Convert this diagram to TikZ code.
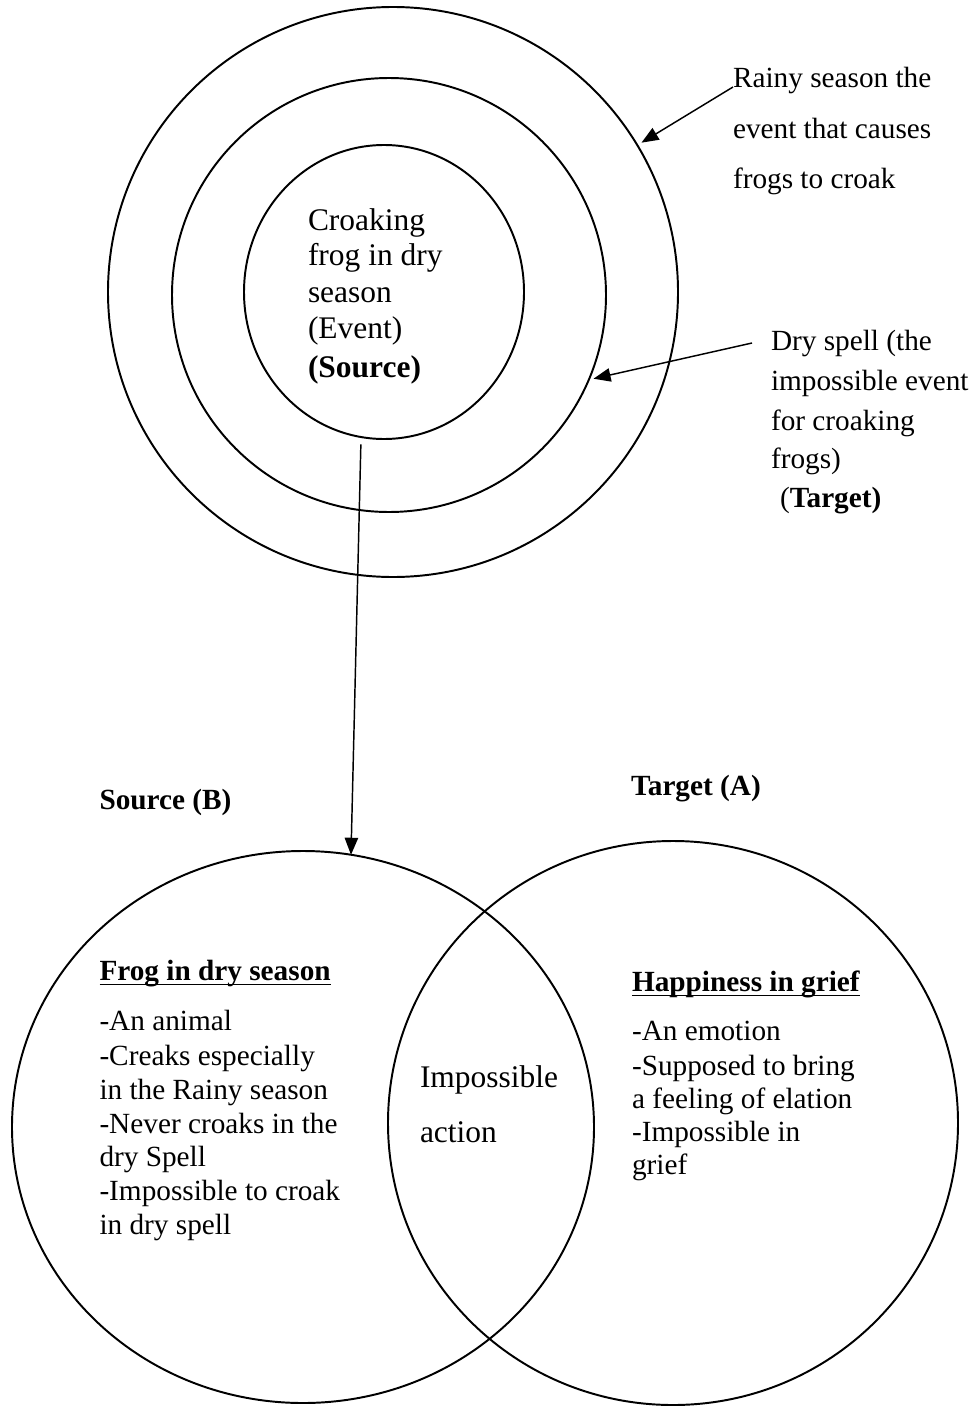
\documentclass[tikz,border=0pt]{standalone}
\usepackage{fontspec}
\setmainfont{Liberation Serif}
\usepackage{tikz}
\usetikzlibrary{positioning,arrows.meta}
\usetikzlibrary{shapes.geometric}

\newcommand{\pxu}{0.41pt}

\tikzset{
	ring/.style={draw, line width=0.8pt, inner sep=0pt, outer sep=0pt},
	lbl/.style={anchor=base west, inner sep=0pt, outer sep=0pt,
		font=\fontsize{12}{14}\selectfont},
	biglbl/.style={lbl, font=\fontsize{12.9}{15}\selectfont},
	pointer/.style={-{Triangle[length=7pt,width=5.5pt]}, line width=0.6pt},
	uline/.style={line width=0.6pt}
}

\begin{document}
\begin{tikzpicture}[x=\pxu,y=-\pxu]
		
		\useasboundingbox (0,0) rectangle (975,1406);
		
		% rings round the event
		\node[ring, circle, minimum size=570*\pxu] (outerring) at (393,292) {};
		\node[ring, circle, minimum size=434*\pxu] (midring) at (389,295) {};
		\node[ring, ellipse, minimum width=280*\pxu, minimum height=294*\pxu]
		(innerring) at (384,292) {};
		
		\foreach \y/\txt [count=\i] in
		{
			230/{Croaking},
			265/{frog in dry},
			302/{season},
			338/{(Event)},
			377/{\textbf{(Source)}}
		}
		{
			\node[biglbl] (event\i) at (308,\y) {\txt};
		}
		
		\foreach \y/\txt [count=\i] in
		{
			87/{Rainy season the},
			138/{event that causes},
			188/{frogs to croak}
		}
		{
			\node[lbl] (rainy\i) at (733,\y) {\txt};
		}
		
		\foreach \y/\txt [count=\i] in
		{
			350/{Dry spell (the},
			390/{impossible event},
			430/{for croaking},
			468/{frogs)}
		}
		{
			\node[lbl] (dry\i) at (771,\y) {\txt};
		}
		\node[lbl] (dry5) at (780,507) {(\textbf{Target)}};
		
		\coordinate (dryfrom) at (752,343);
		
		\draw[pointer, shorten >=2pt]
		(rainy1.base west)
		--
		(outerring.31.5);
		
		\draw[pointer, shorten >=2pt]
		(dryfrom)
		--
		(midring.-23);
		
		% source and target
		\node[ring, ellipse, minimum width=582*\pxu, minimum height=552*\pxu]
		(srcring) at (303,1127) {};
		\node[ring, ellipse, minimum width=570*\pxu, minimum height=564*\pxu]
		(tgtring) at (673,1123) {};
		
		\draw[pointer, shorten <=3pt]
		(innerring.-99)
		--
		(srcring.80.7);
		
		\node[lbl, font=\fontsize{12}{14}\selectfont\bfseries] (srcB) at (99.5,809) {Source (B)};
		\node[lbl, font=\fontsize{12}{14}\selectfont\bfseries] (tgtA) at (631,795) {Target (A)};
		
		\node[lbl] (frogtitle) at (99.5,980) {\textbf{Frog in dry season}};
		\draw[uline]
		([yshift=-1.9pt]frogtitle.base west)
		--
		([yshift=-1.9pt]frogtitle.base east);
		
		\foreach \y/\txt [count=\i] in
		{
			1030/{-An animal},
			1065/{-Creaks especially},
			1099/{in the Rainy season},
			1133/{-Never croaks in the},
			1166/{dry Spell},
			1200/{-Impossible to croak},
			1234/{in dry spell}
		}
		{
			\node[lbl] (frog\i) at (99.5,\y) {\txt};
		}
		
		\node[lbl] (joy) at (632,991) {\textbf{Happiness in grief}};
		\draw[uline]
		([yshift=-1.9pt]joy.base west)
		--
		([yshift=-1.9pt]joy.base east);
		
		\foreach \y/\txt [count=\i] in
		{
			1040/{-An emotion},
			1075/{-Supposed to bring},
			1108/{a feeling of elation},
			1141/{-Impossible in},
			1174/{grief}
		}
		{
			\node[lbl] (joy\i) at (632,\y) {\txt};
		}
		
		\node[biglbl] (both1) at (420,1087) {Impossible};
		\node[biglbl] (both2) at (420,1142) {action};
		
	\end{tikzpicture}
\end{document}
